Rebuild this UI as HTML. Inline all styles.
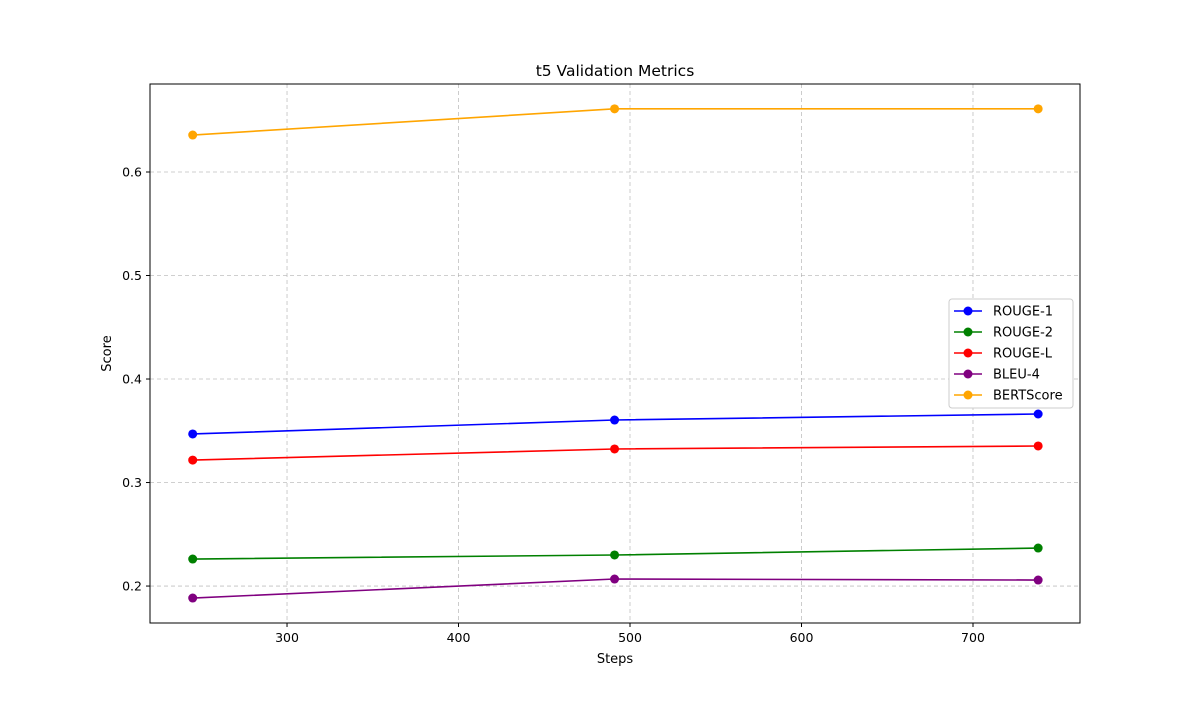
<!DOCTYPE html>
<html><head><meta charset="utf-8"><style>
body{margin:0;background:#fff;font-family:"Liberation Sans","DejaVu Sans",sans-serif;}
svg text{font-family:"DejaVu Sans","Liberation Sans",sans-serif;}
</style></head><body>
<svg id="chart" width="1200" height="700" xmlns="http://www.w3.org/2000/svg"></svg>
<script>
const steps=[245,491,738];
const seriesNames=["ROUGE-1","ROUGE-2","ROUGE-L","BLEU-4","BERTScore"];
const seriesColors=["blue","green","red","purple","orange"];
const rouge1=[0.3469,0.3604,0.3662];
const rouge2=[0.2261,0.2300,0.2367];
const rougeL=[0.3217,0.3324,0.3353];
const bleu4=[0.1884,0.2068,0.2058];
const bertScore=[0.6357,0.661,0.661];
const xTicks=[300,400,500,600,700];
const yTicks=[0.2,0.3,0.4,0.5,0.6];
const allSeries=[rouge1,rouge2,rougeL,bleu4,bertScore];
const L=150,R=1080,T=84,B=623;
const xMin=220.1,xMax=762.4,yMin=0.1643,yMax=0.685;
const sx=v=>L+(v-xMin)/(xMax-xMin)*(R-L);
const sy=v=>B-(v-yMin)/(yMax-yMin)*(B-T);
const svg=document.getElementById('chart');
const NS="http://www.w3.org/2000/svg";
function mk(tag,attrs,parent){const e=document.createElementNS(NS,tag);for(const k in attrs)e.setAttribute(k,attrs[k]);(parent||svg).appendChild(e);return e;}
function txt(s,attrs){const e=mk('text',attrs);e.textContent=s;return e;}
xTicks.forEach(t=>{const g=mk('line',{x1:sx(t),x2:sx(t),y1:T,y2:B,stroke:'#b0b0b0','stroke-width':0.8,'stroke-dasharray':'4,3',opacity:0.8});


mk('line',{x1:sx(t),x2:sx(t),y1:B,y2:B+4,stroke:'#000'});
const lb=txt(String(t),{x:sx(t),y:B+19,'text-anchor':'middle','font-size':12.5});

});
yTicks.forEach(t=>{const g=mk('line',{x1:L,x2:R,y1:sy(t),y2:sy(t),stroke:'#b0b0b0','stroke-width':0.8,'stroke-dasharray':'4,3',opacity:0.8});


mk('line',{x1:L-4,x2:L,y1:sy(t),y2:sy(t),stroke:'#000'});
const lb=txt(t.toFixed(1),{x:L-8,y:sy(t)+4.5,'text-anchor':'end','font-size':12.5});

});
const frame=mk('rect',{x:L,y:T,width:R-L,height:B-T,fill:'none',stroke:'#000','stroke-width':1});


allSeries.forEach((s,i)=>{
const pl=mk('polyline',{points:s.map((v,j)=>sx(steps[j])+','+sy(v)).join(' '),fill:'none',stroke:seriesColors[i],'stroke-width':1.6});


s.forEach((v,j)=>{const c=mk('circle',{cx:sx(steps[j]),cy:sy(v),r:4.5,fill:seriesColors[i]});

});});
const title=txt('t5 Validation Metrics',{x:(L+R)/2,y:76,'text-anchor':'middle','font-size':15.5});


const xl=txt('Steps',{x:(L+R)/2,y:663,'text-anchor':'middle','font-size':13});


const yl=txt('Score',{x:111,y:(T+B)/2,'text-anchor':'middle','font-size':13,transform:'rotate(-90 111 '+(T+B)/2+')'});


const lg=mk('rect',{x:949,y:299,width:124,height:109,fill:'#fff',stroke:'#ccc',rx:3});


seriesNames.forEach((n,i)=>{const y=311+i*21;
mk('line',{x1:954,x2:982,y1:y,y2:y,stroke:seriesColors[i],'stroke-width':1.6});
mk('circle',{cx:968,cy:y,r:4.5,fill:seriesColors[i]});
const t=txt(n,{x:993,y:y+4.5,'font-size':13});

});
</script>
</body></html>
